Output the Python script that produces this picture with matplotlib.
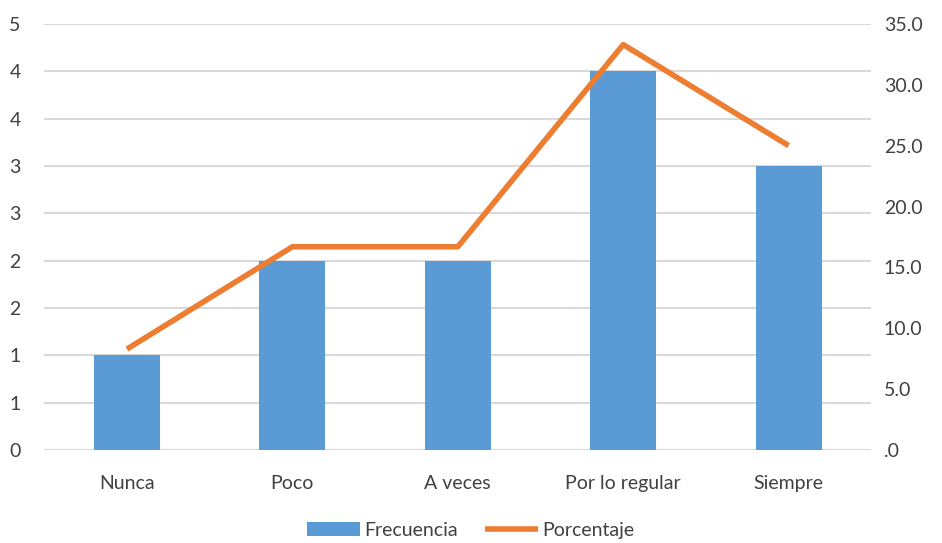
import numpy as np
import matplotlib
matplotlib.use('Agg')
import matplotlib.pyplot as plt
from matplotlib.ticker import FuncFormatter, MultipleLocator

plt.rcParams['font.family'] = ['Lato', 'DejaVu Sans']

# datos
categorias = ['Nunca', 'Poco', 'A veces', 'Por lo regular', 'Siempre']
frecuencia = [1, 2, 2, 4, 3]
porcentaje = [8.3, 16.7, 16.7, 33.3, 25.0]

azul = '#5B9BD5'
naranja = '#ED7D31'
gris_texto = '#404040'

fig = plt.figure(figsize=(9.42, 5.43), dpi=100)
ax = fig.add_axes([0.047, 0.171, 0.878, 0.785])
ax2 = ax.twinx()

x = np.arange(len(categorias))
barras = ax.bar(x, frecuencia, width=0.4, color=azul, label='Frecuencia', zorder=2)
linea, = ax2.plot(x, porcentaje, color=naranja, linewidth=4, label='Porcentaje',
                  solid_capstyle='butt', zorder=3)

ax.set_xlim(-0.5, len(categorias) - 0.5)
ax.set_ylim(0, 4.5)
ax2.set_ylim(0, 35)

ax.yaxis.set_major_locator(MultipleLocator(0.5))
ax2.yaxis.set_major_locator(MultipleLocator(5))
# eje izquierdo redondeado a enteros, como en Excel
ax.yaxis.set_major_formatter(FuncFormatter(lambda v, p: f'{int(v + 0.5)}'))
ax2.yaxis.set_major_formatter(FuncFormatter(lambda v, p: '.0' if v == 0 else f'{v:.1f}'))

ax.grid(axis='y', color='#D9D9D9', linewidth=1.5, zorder=0)
ax.set_axisbelow(True)

for a in (ax, ax2):
    for s in a.spines.values():
        s.set_visible(False)
    a.tick_params(length=0, labelsize=14, colors=gris_texto)

ax.set_xticks(x)
ax.set_xticklabels(categorias)
ax.tick_params(axis='x', pad=18)
ax.tick_params(axis='y', pad=17)
ax2.tick_params(axis='y', pad=9)

ax.set_zorder(ax2.get_zorder() - 1)
ax2.patch.set_visible(False)
ax.patch.set_visible(False)

fig.legend([barras, linea], ['Frecuencia', 'Porcentaje'], loc='lower center',
           bbox_to_anchor=(0.5, -0.025), ncol=2, frameon=False, fontsize=14,
           handlelength=2.7, handletextpad=0.25, columnspacing=1.4,
           labelcolor=gris_texto)

fig.savefig('out.png', dpi=100, facecolor='white')
